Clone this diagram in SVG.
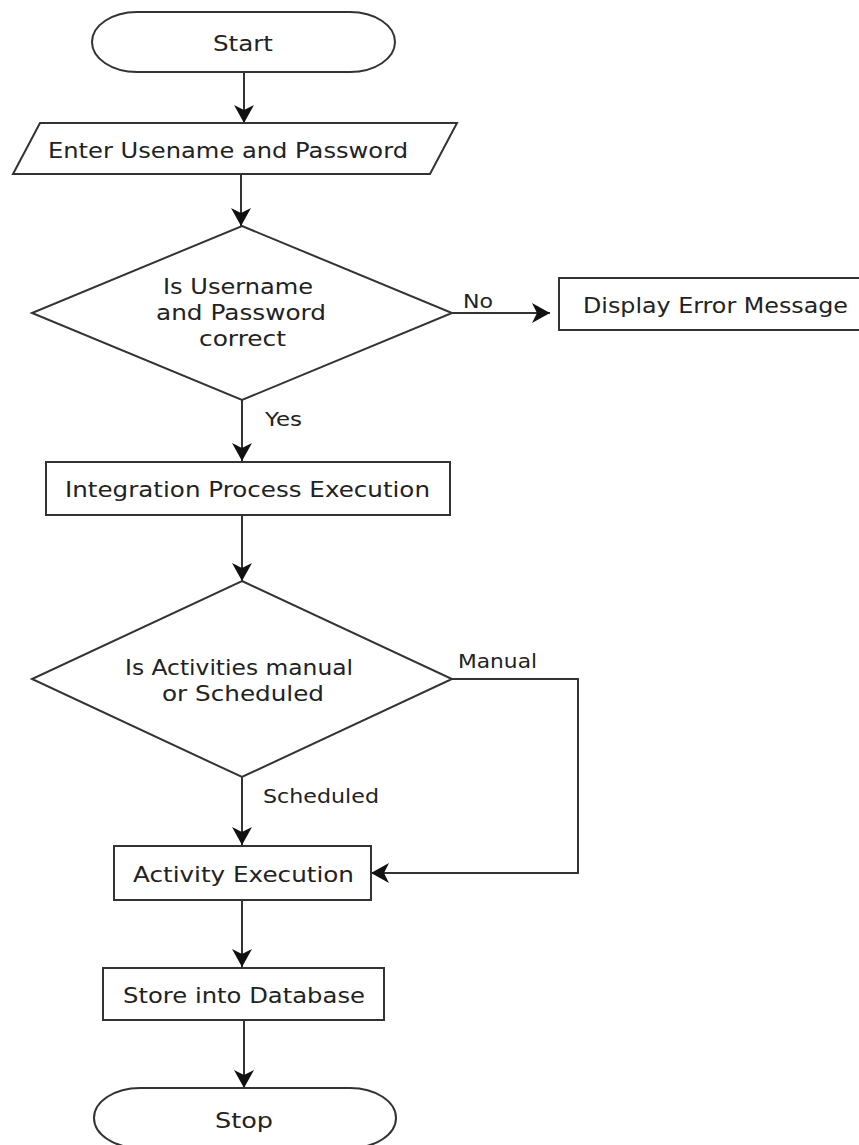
<svg xmlns="http://www.w3.org/2000/svg" width="859" height="1145" viewBox="0 0 859 1145">
  <style>
    .shape { fill: #ffffff; stroke: #333333; stroke-width: 2; }
    .edge { fill: none; stroke: #333333; stroke-width: 2; }
    .txt { font-family: "DejaVu Sans", Verdana, sans-serif; font-size: 22px; fill: #222222; }
    .big { font-family: "DejaVu Sans", Verdana, sans-serif; font-size: 21px; fill: #222222; }
    .lbl { font-family: "DejaVu Sans", Verdana, sans-serif; font-size: 19px; fill: #222222; }
  </style>
  <defs>
    <marker id="arrow" markerUnits="userSpaceOnUse" viewBox="0 0 18 20" refX="18" refY="10" markerWidth="18" markerHeight="20" orient="auto">
      <path d="M0,0 L18,10 L0,20 L5,10 Z" fill="#111111"/>
    </marker>
  </defs>
  <rect width="859" height="1145" fill="#ffffff"/>

  <!-- connectors -->
  <g id="connectors">
    <line class="edge" x1="244" y1="72" x2="244" y2="123" marker-end="url(#arrow)"/>
    <line class="edge" x1="241" y1="174" x2="241" y2="226" marker-end="url(#arrow)"/>
    <line class="edge" x1="452" y1="313" x2="550" y2="313" marker-end="url(#arrow)"/>
    <line class="edge" x1="242" y1="400" x2="242" y2="461" marker-end="url(#arrow)"/>
    <line class="edge" x1="242" y1="515" x2="242" y2="581" marker-end="url(#arrow)"/>
    <line class="edge" x1="242" y1="777" x2="242" y2="845" marker-end="url(#arrow)"/>
    <polyline class="edge" points="452,679 578,679 578,873 371,873" marker-end="url(#arrow)"/>
    <line class="edge" x1="242" y1="900" x2="242" y2="967" marker-end="url(#arrow)"/>
    <line class="edge" x1="244" y1="1020" x2="244" y2="1088" marker-end="url(#arrow)"/>
    <text class="lbl" x="463" y="308" textLength="30" lengthAdjust="spacingAndGlyphs">No</text>
    <text class="lbl" x="265" y="426" textLength="37" lengthAdjust="spacingAndGlyphs">Yes</text>
    <text class="lbl" x="458" y="668" textLength="79" lengthAdjust="spacingAndGlyphs">Manual</text>
    <text class="lbl" x="263" y="803" textLength="116" lengthAdjust="spacingAndGlyphs">Scheduled</text>
  </g>

  <g id="start">
    <path class="shape" d="M137,12 H350 A45,30 0 0 1 350,72 H137 A45,30 0 0 1 137,12 Z"/>
    <text class="txt" x="213" y="51" textLength="60" lengthAdjust="spacingAndGlyphs">Start</text>
  </g>

  <g id="enter-credentials">
    <polygon class="shape" points="40,123 457,123 430,174 13,174"/>
    <text class="txt" x="48" y="158" textLength="360" lengthAdjust="spacingAndGlyphs">Enter Usename and Password</text>
  </g>

  <g id="check-credentials">
    <polygon class="shape" points="242,226 452,313 242,400 32,313"/>
    <text class="big" x="163" y="294" textLength="150" lengthAdjust="spacingAndGlyphs">Is Username</text>
    <text class="big" x="156" y="320" textLength="170" lengthAdjust="spacingAndGlyphs">and Password</text>
    <text class="big" x="199" y="346" textLength="87" lengthAdjust="spacingAndGlyphs">correct</text>
  </g>

  <g id="display-error">
    <rect class="shape" x="559" y="278" width="330" height="52"/>
    <text class="txt" x="583" y="313" textLength="265" lengthAdjust="spacingAndGlyphs">Display Error Message</text>
  </g>

  <g id="integration-process">
    <rect class="shape" x="46" y="462" width="404" height="53"/>
    <text class="txt" x="65" y="497" textLength="365" lengthAdjust="spacingAndGlyphs">Integration Process Execution</text>
  </g>

  <g id="check-activities">
    <polygon class="shape" points="242,581 452,679 242,777 32,679"/>
    <text class="txt" x="125" y="675" textLength="228" lengthAdjust="spacingAndGlyphs">Is Activities manual</text>
    <text class="txt" x="162" y="701" textLength="162" lengthAdjust="spacingAndGlyphs">or Scheduled</text>
  </g>

  <g id="activity-execution">
    <rect class="shape" x="114" y="846" width="257" height="54"/>
    <text class="txt" x="133" y="882" textLength="221" lengthAdjust="spacingAndGlyphs">Activity Execution</text>
  </g>

  <g id="store-database">
    <rect class="shape" x="103" y="968" width="281" height="52"/>
    <text class="txt" x="123" y="1003" textLength="242" lengthAdjust="spacingAndGlyphs">Store into Database</text>
  </g>

  <g id="stop">
    <path class="shape" d="M140,1088 H350 A46,30 0 0 1 350,1148 H140 A46,30 0 0 1 140,1088 Z"/>
    <text class="txt" x="215" y="1128" textLength="58" lengthAdjust="spacingAndGlyphs">Stop</text>
  </g>
</svg>
